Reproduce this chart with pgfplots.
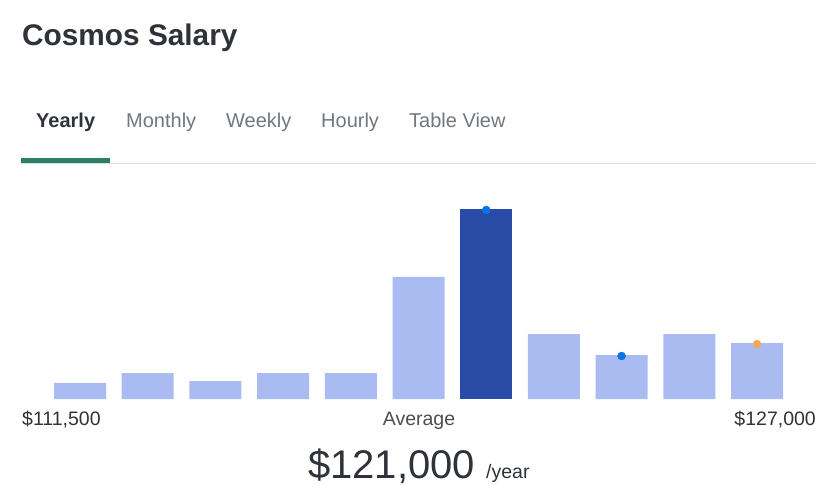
\documentclass[border=0pt]{standalone}
\usepackage{pgfplots}
\pgfplotsset{compat=1.18}
\usepackage{fontspec}
\setmainfont{Liberation Sans}

\definecolor{barlight}{HTML}{AABBF2}
\definecolor{bardark}{HTML}{284CA5}
\definecolor{dotblue}{HTML}{0A74E6}
\definecolor{dotorange}{HTML}{F6A85A}
\definecolor{titlegray}{HTML}{2D3338}
\definecolor{tabgray}{HTML}{6F7780}
\definecolor{tabgreen}{HTML}{2A7F67}
\definecolor{rulegray}{HTML}{DCDCDC}
\definecolor{labelgray}{HTML}{4D4D4D}

\begin{document}
\begin{tikzpicture}[x=1pt,y=1pt]
% page frame, 1pt = 1px of the reference
\path[use as bounding box] (0,0) rectangle (840,485);

% title and tabs
\node[anchor=base west,inner sep=0pt,text=titlegray] at (22,439)
  {\fontsize{29.8}{34}\selectfont\bfseries Cosmos Salary};
\node[anchor=base west,inner sep=0pt,text=titlegray] at (36,357)
  {\fontsize{20}{24}\selectfont\bfseries Yearly};
\node[anchor=base west,inner sep=0pt,text=tabgray] at (126,357)
  {\fontsize{20}{24}\selectfont Monthly};
\node[anchor=base west,inner sep=0pt,text=tabgray] at (226,357)
  {\fontsize{20}{24}\selectfont Weekly};
\node[anchor=base west,inner sep=0pt,text=tabgray] at (321,357)
  {\fontsize{20}{24}\selectfont Hourly};
\node[anchor=base west,inner sep=0pt,text=tabgray] at (409,357)
  {\fontsize{20}{24}\selectfont Table View};
\fill[rulegray] (21,321) rectangle (816,322.3);
\fill[tabgreen] (21,322) rectangle (110,327);

\begin{axis}[
  at={(46.15pt,86pt)}, anchor=south west,
  scale only axis,
  width=744.7pt, height=200pt,
  xmin=0.5, xmax=11.5,
  ymin=0, ymax=200,
  axis lines=none,
  ticks=none,
  clip=false,
]
% share of salaries in each band
\addplot[ybar, bar width=52pt, bar shift=0pt, fill=barlight, draw=none]
  coordinates {(1,16) (2,26) (3,18) (4,26) (5,26) (6,122) (8,65) (9,44) (10,65) (11,56)};
\addplot[ybar, bar width=52pt, bar shift=0pt, fill=bardark, draw=none]
  coordinates {(7,190)};
\addplot[only marks, mark=*, mark size=4pt, color=dotblue]
  coordinates {(7,189) (9,43)};
\addplot[only marks, mark=*, mark size=4pt, color=dotorange]
  coordinates {(11,55)};
\end{axis}

% range labels and average
\node[anchor=base west,inner sep=0pt,text=titlegray] at (22,60)
  {\fontsize{19.5}{23}\selectfont \$111,500};
\node[anchor=base,inner sep=0pt,text=labelgray] at (419,60)
  {\fontsize{19.5}{23}\selectfont Average};
\node[anchor=base east,inner sep=0pt,text=titlegray] at (816,60)
  {\fontsize{19.5}{23}\selectfont \$127,000};
\node[anchor=base west,inner sep=0pt,text=titlegray] at (308,7)
  {\fontsize{40}{46}\selectfont \$121,000};
\node[anchor=base west,inner sep=0pt,text=titlegray] at (486,7)
  {\fontsize{19.5}{23}\selectfont /year};
\end{tikzpicture}
\end{document}
